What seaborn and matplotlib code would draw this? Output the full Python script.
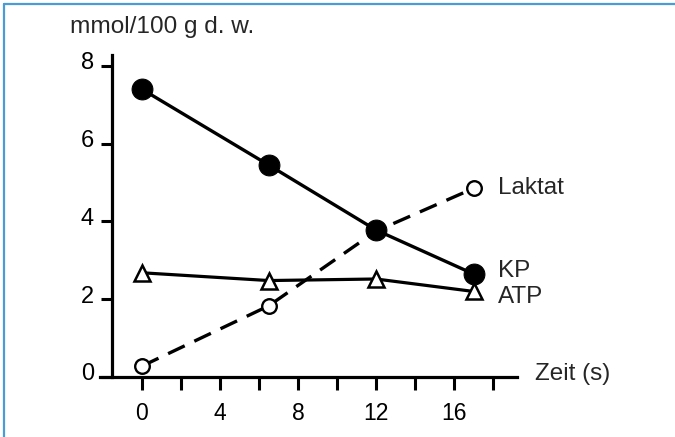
import matplotlib
matplotlib.use("Agg")
import matplotlib.pyplot as plt
import matplotlib.transforms as mtransforms
from matplotlib.lines import Line2D
import seaborn as sns
import pandas as pd

# ---- data ----
time = [0, 6.5, 12, 17]
kp = [7.4, 5.45, 3.78, 2.65]
laktat = [0.28, 1.83, 3.75, 4.85]
atp = [2.68, 2.48, 2.52, 2.2]
series_names = ["Laktat", "KP", "ATP"]
xticks_major = [0, 4, 8, 12, 16]
xticks_all = [0, 2, 4, 6, 8, 10, 12, 14, 16, 18]
yticks = [0, 2, 4, 6, 8]
ylabel = "mmol/100 g d. w."
xlabel = "Zeit (s)"

sns.set_style("white")
plt.rcParams['font.family'] = ['Liberation Sans', 'DejaVu Sans']

fig = plt.figure(figsize=(6.75, 4.37), dpi=100)
ax = fig.add_axes([100/675, 60/437, 417/675, 322/437])

df_kp = pd.DataFrame({"t": time, "v": kp})
df_la = pd.DataFrame({"t": time, "v": laktat})
df_atp = pd.DataFrame({"t": time, "v": atp})

sns.lineplot(data=df_la, x="t", y="v", ax=ax, color="black", lw=2.4,
             linestyle=(0, (5.5, 3.2)), marker="o", markersize=10.5,
             markerfacecolor="white", markeredgecolor="black",
             markeredgewidth=1.7, zorder=3)
sns.lineplot(data=df_atp, x="t", y="v", ax=ax, color="black", lw=2.3,
             marker="^", markersize=11.5, markerfacecolor="white",
             markeredgecolor="black", markeredgewidth=1.8, zorder=3)
sns.lineplot(data=df_kp, x="t", y="v", ax=ax, color="black", lw=2.4,
             marker="o", markersize=15, markerfacecolor="black",
             markeredgecolor="black", zorder=4)

ax.set_xlim(-2.15, 19.23)
ax.set_ylim(0, 8.28)
for s in ["top", "right"]:
    ax.spines[s].set_visible(False)
ax.spines["left"].set_position(("data", -1.54))
ax.spines["left"].set_linewidth(2.3)
ax.spines["bottom"].set_linewidth(2.3)
ax.spines["left"].set_color("black")
ax.spines["bottom"].set_color("black")

ax.set_xticks(xticks_all)
ax.set_xticklabels([str(t) if t in xticks_major else "" for t in xticks_all])
ax.set_yticks(yticks)
ax.set_yticklabels([str(t) for t in yticks])
ax.tick_params(axis="x", direction="out", length=9, width=2.2, pad=9,
               labelsize=16.5, bottom=True, colors="black")
ax.tick_params(axis="y", direction="out", length=8, width=2.2, pad=5,
               labelsize=17, left=True, colors="black")
ax.set_xlabel("")
ax.set_ylabel("")

shift = mtransforms.ScaledTranslation(0, 5/100, fig.dpi_scale_trans)
for lbl in ax.get_yticklabels():
    lbl.set_transform(lbl.get_transform() + shift)

# series labels
fs = 17.5
fig.text(498/675, (437-188)/437, "Laktat", fontsize=fs, va="center", ha="left")
fig.text(498/675, (437-271)/437, "KP", fontsize=fs, va="center", ha="left")
fig.text(498/675, (437-297)/437, "ATP", fontsize=fs, va="center", ha="left")
fig.text(535/675, (437-374)/437, xlabel, fontsize=fs, va="center", ha="left")
fig.text(70/675, (437-27)/437, ylabel, fontsize=17.6, va="center", ha="left")

# blue frame
blue = "#4b9bd5"
fig.add_artist(Line2D([4/675, 4/675], [0, 1 - 4/437], transform=fig.transFigure,
                      color=blue, lw=1.6))
fig.add_artist(Line2D([4/675, 1], [1 - 4/437, 1 - 4/437], transform=fig.transFigure,
                      color=blue, lw=1.6))

fig.savefig("out.png", dpi=100)
